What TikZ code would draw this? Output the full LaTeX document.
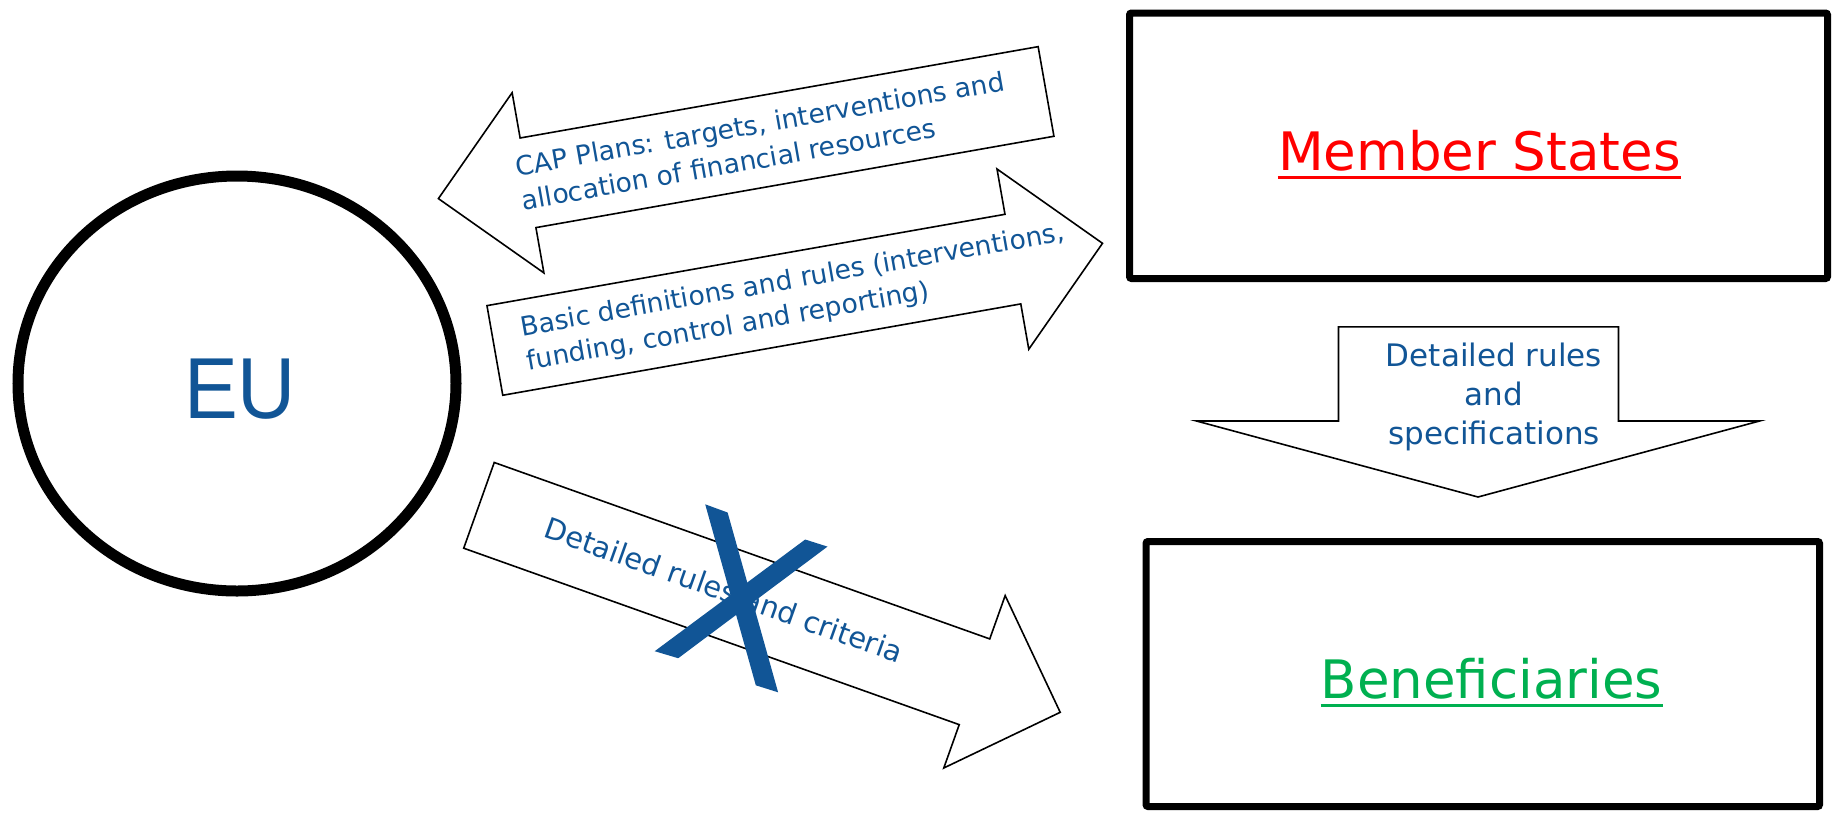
\documentclass[tikz,border=0pt]{standalone}
\usepackage{fontspec}
\setmainfont{DejaVu Sans}
\newfontfamily\arialfont{Liberation Sans}
\usetikzlibrary{shapes.geometric}
\definecolor{eublue}{RGB}{17,85,150}
\definecolor{msred}{RGB}{255,0,0}
\definecolor{bengreen}{RGB}{0,176,80}
\tikzset{
  blockarrow/.style={draw=black, line width=1.6, fill=white, line join=miter},
  bigbox/.style={draw=black, line width=7, rounded corners=2, inner sep=0},
  arrowtext/.style={text=eublue, inner sep=0, font=\fontsize{26.5}{34.5}\selectfont},
  titletext/.style={inner sep=0, font=\fontsize{53}{60}\selectfont},
}
\newcommand{\arrowshape}{(0,0) -- (91,91.5) -- (91,45.5) -- (617,45.5) -- (617,-45.5) -- (91,-45.5) -- (91,-91.5) -- cycle}
\begin{document}
\begin{tikzpicture}[x=1pt,y=-1pt]
\useasboundingbox (0,0) rectangle (1843,812);
% EU circle
\node[ellipse, draw=black, line width=11, minimum width=438, minimum height=415, inner sep=0] (eu) at (237,383.5) {};
\node[text=eublue, inner sep=0, anchor=base, font=\arialfont\fontsize{86.6}{90}\selectfont] (eutext) at (240,418.5) {\scalebox{0.93}[1]{EU}};
% boxes
\node[bigbox, minimum width=698, minimum height=265.5] (ms) at (1478.5,145.75) {};
\node[bigbox, minimum width=673.5, minimum height=265] (ben) at (1482.75,674) {};
\node[titletext, text=msred, anchor=base] (mstext) at (1479.5,170.5) {Member States};
\draw[msred, line width=3] ([yshift=-6.5pt]mstext.base west) -- ([yshift=-6.5pt]mstext.base east);
\node[titletext, text=bengreen, anchor=base] (bentext) at (1491.6,698.5) {Beneficiaries};
\draw[bengreen, line width=3] ([yshift=-7pt]bentext.base west) -- ([yshift=-7pt]bentext.base east);
% arrow 1 (to EU)
\begin{scope}[shift={(438.4,198.6)}, rotate=10]
\draw[blockarrow] \arrowshape;
\end{scope}
\node[arrowtext, rotate=10, anchor=west, align=left] (capplans) at (518.6,183.6) {CAP Plans: targets, interventions and\\allocation of financial resources};
% arrow 2 (to Member States)
\begin{scope}[shift={(1102.5,243.3)}, rotate=190]
\draw[blockarrow] \arrowshape;
\end{scope}
\node[arrowtext, rotate=10, anchor=west, align=left] (basic) at (524,346) {Basic definitions and rules (interventions,\\funding, control and reporting)};
% arrow 3 (to Beneficiaries, crossed)
\begin{scope}[shift={(1060.2,712.3)}, rotate=160.4]
\draw[blockarrow] \arrowshape;
\end{scope}
\node[arrowtext, rotate=-19.6, font=\fontsize{29}{34}\selectfont] (criteria) at (724,590) {Detailed rules and criteria};
\fill[eublue] (705.2,504.3) -- (727.6,512.5) -- (778.1,692.3) -- (755.8,685.3) -- cycle;
\fill[eublue] (805.2,539.5) -- (827.5,546.6) -- (678.2,658.2) -- (654.7,651.2) -- cycle;
% down arrow
\draw[blockarrow] (1338.5,326.8) -- (1618.5,326.8) -- (1618.5,421) -- (1759.5,421) -- (1478,497) -- (1196.5,421) -- (1338.5,421) -- cycle;
\node[arrowtext, align=center, font=\fontsize{31}{39}\selectfont] (detspec) at (1494,397.4) {Detailed rules\\and\\specifications};
\end{tikzpicture}
\end{document}
